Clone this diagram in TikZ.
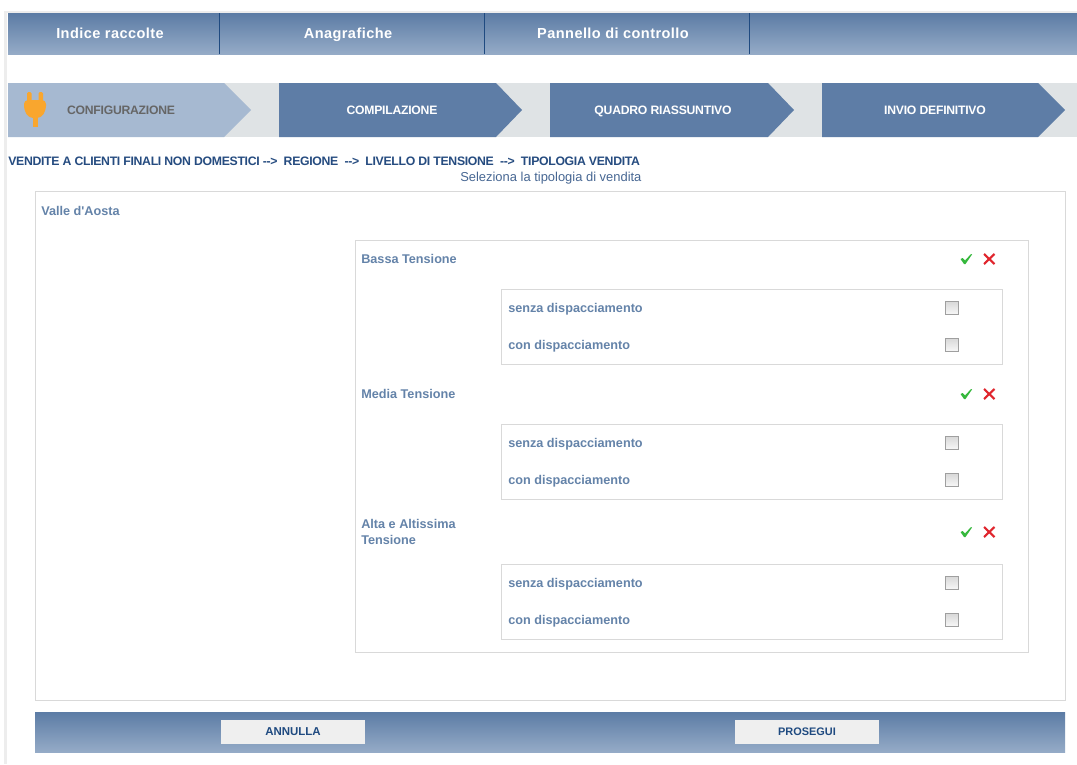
\documentclass[tikz,border=0pt]{standalone}
\usepackage{fontspec}
\setmainfont{Liberation Sans}[Ligatures=TeXOff]
\definecolor{hdtop}{HTML}{5C7CA5}
\definecolor{hdbot}{HTML}{95ABC7}
\definecolor{stepdark}{HTML}{5E7DA6}
\definecolor{steplight}{HTML}{A6B9D1}
\definecolor{stripgray}{HTML}{DFE3E5}
\definecolor{navy}{HTML}{1F4A80}
\definecolor{crumb}{HTML}{264C80}
\definecolor{lab}{HTML}{6483A9}
\definecolor{framegray}{HTML}{D9D9D9}
\definecolor{btn}{HTML}{EFEFEF}
\definecolor{plug}{HTML}{F9A62E}
\definecolor{okgreen}{HTML}{35B83C}
\definecolor{nored}{HTML}{E0252D}
\newcommand{\pxfont}[1]{\fontsize{#1}{#1}\selectfont}
\tikzset{
  x=0.75pt,y=-0.75pt,
  gradbar/.style={top color=hdtop,bottom color=hdbot,draw=none},
  frame/.style={draw=framegray,line width=0.75pt,fill=white},
  menutext/.style={text=white,font={\pxfont{10.9}\bfseries\addfontfeature{LetterSpace=3}},inner sep=0pt,anchor=base},
  steptext/.style={text=white,font={\pxfont{9.15}\bfseries\addfontfeature{LetterSpace=-2}},inner sep=0pt,anchor=base},
  labeltext/.style={text=lab,font={\pxfont{9.5}\bfseries},inner sep=0pt,anchor=base west,align=left},
  chk/.style={draw=gray!75,top color=gray!30,bottom color=gray!6,line width=0.7pt,minimum size=9.5pt,inner sep=0pt,anchor=center},
  btnbox/.style={fill=btn,draw=none,minimum width=108pt,minimum height=18pt,inner sep=0pt,anchor=center,text=navy},
  nomark/.style={draw=nored,line width=1.6pt},
}
\begin{document}
\begin{tikzpicture}
\useasboundingbox (0,0) rectangle (1077,764);
\fill[white] (0,0) rectangle (1077,764);
% page rules
\fill[black!7] (4,11) rectangle (7,764);
\fill[black!7] (4,11) rectangle (1077,13);
% menu bar
\shade[gradbar] (8,13) rectangle (1077,54);
\foreach \sx in {219,484,749}{\draw[navy,line width=0.7pt] (\sx,13) -- (\sx,54);}
\node[menutext] (m1) at (110,38) {Indice raccolte};
\node[menutext] (m2) at (348,38) {Anagrafiche};
\node[menutext] (m3) at (613,38) {Pannello di controllo};
% step strip
\fill[stripgray] (8,83) rectangle (1077,137);
\fill[steplight] (8,83) -- (224,83) -- (251,110) -- (224,137) -- (8,137) -- cycle;
\fill[stepdark] (279,83) -- (496,83) -- (522,110) -- (496,137) -- (279,137) -- cycle;
\fill[stepdark] (550,83) -- (768,83) -- (794,110) -- (768,137) -- (550,137) -- cycle;
\fill[stepdark] (822,83) -- (1038,83) -- (1065,110) -- (1038,137) -- (822,137) -- cycle;
\node[steptext,text=black!60] (s1) at (121,114) {CONFIGURAZIONE};
\node[steptext] (s2) at (392,114) {COMPILAZIONE};
\node[steptext] (s3) at (663,114) {QUADRO RIASSUNTIVO};
\node[steptext] (s4) at (935,114) {INVIO DEFINITIVO};
% plug icon
\fill[plug,rounded corners=1pt] (27,92) rectangle (31.5,102);
\fill[plug,rounded corners=1pt] (38.5,92) rectangle (43,102);
\fill[plug,rounded corners=3pt] (24,100) -- (46,100) -- (46,110) -- (41,118) -- (29,118) -- (24,110) -- cycle;
\fill[plug] (32.5,116) rectangle (37.5,127);
% breadcrumb
\node[inner sep=0pt,anchor=base west,text=crumb,font={\pxfont{9.2}\bfseries\addfontfeature{LetterSpace=-2.6}}] (crumbs) at (8,165) {VENDITE A CLIENTI FINALI NON DOMESTICI --> \ REGIONE \ --> \ LIVELLO DI TENSIONE \ --> \ TIPOLOGIA VENDITA};
\node[inner sep=0pt,anchor=base west,text=crumb!85,font={\pxfont{9.7}}] (hint) at (460,181) {Seleziona la tipologia di vendita};
% outer panels
\draw[frame] (35,191) rectangle (1065,700);
\node[labeltext] (reg) at (41,215) {Valle d'Aosta};
\draw[frame] (355,240) rectangle (1028,652);
% groups
\node[labeltext] (g1) at (361,263) {Bassa Tensione};
\node[labeltext] (g2) at (361,398) {Media Tensione};
\node[labeltext,anchor=west] (g3) at (361,532) {Alta e Altissima\\[3pt]Tensione};
\foreach \ty in {259,394,532}{
  \fill[okgreen] (960.5,\ty) -- (962.5,\ty-1) -- (965,\ty+1.5) -- (971,\ty-5) -- (972,\ty-4.5) -- (965.5,\ty+5) -- (964,\ty+5) -- cycle;
  \draw[nomark] (984,\ty-5) -- (994.5,\ty+5);
  \draw[nomark] (994.5,\ty-5) -- (984,\ty+5);
}
\foreach \bt/\rowa/\rowb/\n in {289/308/345/1,424/443/480/2,564/583/620/3}{
  \draw[frame] (501,\bt) rectangle (1002,\bt+75);
  \node[labeltext] (sd\n) at (508,\rowa+4) {senza dispacciamento};
  \node[labeltext] (cd\n) at (508,\rowb+4) {con dispacciamento};
  \node[chk] (ka\n) at (952,\rowa) {};
  \node[chk] (kb\n) at (952,\rowb) {};
}
% bottom bar
\shade[gradbar] (35,712) rectangle (1065,752);
\node[btnbox,font={\pxfont{8.6}\bfseries}] (annulla) at (293,732) {ANNULLA};
\node[btnbox,font={\pxfont{8.2}\bfseries}] (prosegui) at (807,732) {PROSEGUI};
\end{tikzpicture}
\end{document}
